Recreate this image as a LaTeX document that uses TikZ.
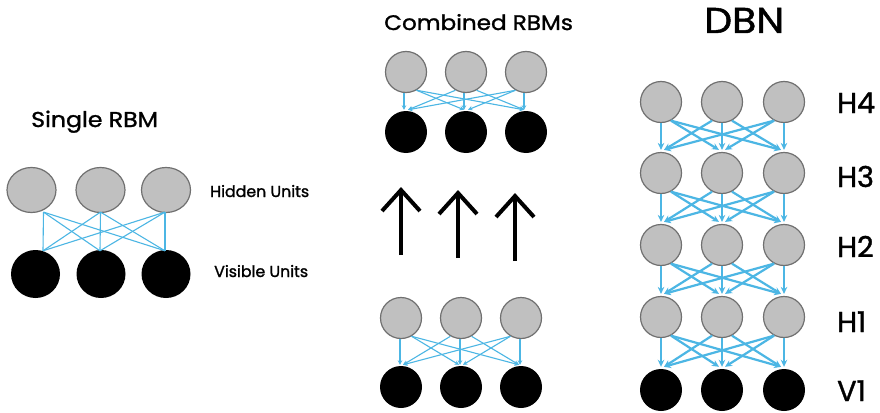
\documentclass[tikz,border=0pt]{standalone}
\usepackage{fontspec}
\setmainfont{Poppins}[FakeBold=1.3]
\newfontfamily\widefont{Poppins}[FakeBold=1.3,FakeStretch=1.1]
\usetikzlibrary{calc,arrows.meta,shapes.geometric}
\definecolor{gfill}{RGB}{192,192,192}
\definecolor{gline}{RGB}{112,112,112}
\definecolor{wire}{RGB}{76,182,228}

\begin{document}
\begin{tikzpicture}[x=1pt,y=-1pt,
  hid/.style={circle,draw=gline,fill=gfill,line width=1.2pt,minimum size=41pt,inner sep=0pt},
  vis/.style={circle,fill=black,minimum size=42pt,inner sep=0pt},
  shid/.style={ellipse,draw=gline,fill=gfill,line width=1.2pt,minimum width=49pt,minimum height=45pt,inner sep=0pt},
  svis/.style={ellipse,fill=black,minimum width=49pt,minimum height=48pt,inner sep=0pt},
  wirethin/.style={draw=wire,line width=1.1pt},
  wirearrow/.style={draw=wire,line width=1.1pt,-{Stealth[length=4.5pt,width=4.5pt]}},
  wirethick/.style={draw=wire,line width=2.2pt,-{Stealth[length=7pt,width=6.5pt]}},
  uparrow/.style={draw=black,line width=4pt,line cap=butt,line join=miter},
  title/.style={anchor=base west,inner sep=0pt,font=\widefont\fontsize{21.5}{24}\selectfont},
  unitlabel/.style={anchor=base west,inner sep=0pt,font=\fontsize{15.8}{18}\selectfont},
  layerlabel/.style={anchor=base west,inner sep=0pt,text depth=0pt,font=\fontsize{28.7}{32}\selectfont},
]
\useasboundingbox[fill=white] (0,0) rectangle (880,412);

% ---------- Single RBM ----------
\node[title] (tsingle) at (31,127) {Single RBM};
\foreach \c/\x in {1/31.5,2/100.5,3/166}
  \node[shid] (sh\c) at (\x,190) {};
\foreach \c/\x in {1/35.5,2/101,3/166}
  \node[svis] (sv\c) at (\x,274) {};
\coordinate (shp1) at ($(sh1.south)+(12,-1)$);
\coordinate (shp2) at ($(sh2.south)+(0,-1)$);
\coordinate (shp3) at ($(sh3.south)+(-1,-1)$);
\coordinate (svp1) at ($(sv1.north)+(7.5,1)$);
\coordinate (svp2) at ($(sv2.north)+(-1,1)$);
\coordinate (svp3) at ($(sv3.north)+(-1,1)$);
\foreach \i in {1,2,3}
  \foreach \j in {1,2,3}
    \draw[wirethin] (shp\i) -- (svp\j);
\node[unitlabel] (lhidden) at (210,197) {Hidden Units};
\node[unitlabel] (lvisible) at (214,277) {Visible Units};

% ---------- Combined RBMs ----------
\node[title,font=\widefont\fontsize{21}{24}\selectfont] (tcomb) at (384,30) {Combined RBMs};
\foreach \c/\x in {1/406,2/466,3/526}{
  \node[hid] (ch\c) at (\x,72) {};
  \node[vis] (cv\c) at (\x,132) {};
}
\foreach \c/\x in {1/401,2/461,3/521}{
  \node[hid] (bh\c) at (\x,318) {};
  \node[vis] (bv\c) at (\x,387) {};
}
\foreach \i in {1,2,3}
  \foreach \j in {1,2,3}{
    \pgfmathtruncatemacro\s{sign(\j-\i)}
    \pgfmathtruncatemacro\ang{-90+30*\s}
    \ifnum\s=0
      \draw[wirearrow] ($(ch\i.south)+(-2,0)$) -- ($(cv\j.north)+(-2,-1)$);
      \draw[wirearrow] ($(bh\i.south)+(-1,0)$) -- ($(bv\j.north)+(-1,-1)$);
    \else
      \draw[wirearrow] (ch\i.\ang) -- ($(cv\j.north)+(-2*\s,-1)$);
      \draw[wirearrow] (bh\i.\ang) -- ($(bv\j.north)+(-2*\s,-1)$);
    \fi
  }
% upward arrows between the two stages
\foreach \k/\x/\yb/\yt in {1/401/255/190,2/458/258/193,3/515/261/196}{
  \coordinate (ab\k) at (\x,\yb);
  \coordinate (at\k) at (\x,\yt);
  \draw[uparrow] (ab\k) -- (at\k);
  \draw[uparrow] ($(at\k)+(-19,21)$) -- (at\k) -- ($(at\k)+(19,21)$);
}

% ---------- DBN ----------
\node[anchor=base west,inner sep=0pt,font=\widefont\fontsize{35.9}{40}\selectfont] (tdbn) at (704,33) {DBN};
\foreach \l/\y in {4/102,3/173,2/245,1/317}
  \foreach \c/\x in {1/661,2/722,3/784}
    \node[hid] (d\l\c) at (\x,\y) {};
\foreach \c/\x in {1/661,2/722,3/784}
  \node[vis] (d0\c) at (\x,390) {};
\foreach \l in {4,3,2,1}{
  \pgfmathtruncatemacro\m{\l-1}
  \foreach \i in {1,2,3}
    \foreach \j in {1,2,3}{
      \pgfmathtruncatemacro\s{sign(\j-\i)}
      \pgfmathtruncatemacro\ang{-90+28*\s}
      \ifnum\s=0
        \draw[wirethick] (d\l\i.south) -- ($(d\m\j.north)+(0,-2)$);
      \else
        \draw[wirethick] (d\l\i.\ang) -- ($(d\m\j.north)+(-3*\s,-2)$);
      \fi
    }
}
\node[layerlabel] (lh4) at (837,113) {H4};
\node[layerlabel] (lh3) at (837,187) {H3};
\node[layerlabel] (lh2) at (837,257) {H2};
\node[layerlabel] (lh1) at (837,332) {H1};
\node[layerlabel] (lv1) at (837,401) {V1};
\end{tikzpicture}
\end{document}
